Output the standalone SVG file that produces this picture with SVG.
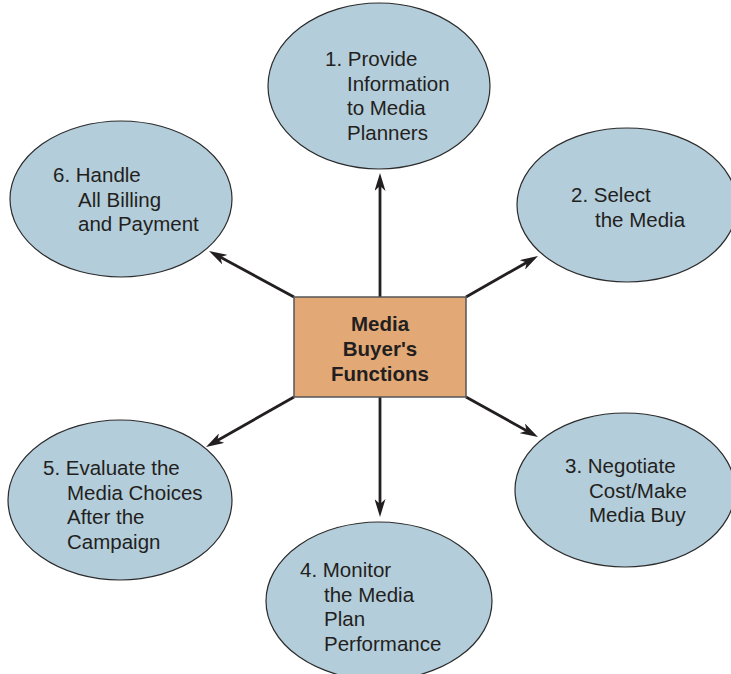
<svg xmlns="http://www.w3.org/2000/svg" width="731" height="674" viewBox="0 0 731 674">
<style>
.ell{fill:#B4CDDA;stroke:#2b2b2b;stroke-width:1.2}
.box{fill:#E2A976;stroke:#555;stroke-width:1.5}
.t{font-family:"Liberation Sans",Arial,sans-serif;font-size:20.5px;fill:#231F20}
.b{font-family:"Liberation Sans",Arial,sans-serif;font-size:20.5px;font-weight:bold;fill:#231F20;text-anchor:middle}
.c{stroke:#231F20;stroke-width:2.8;fill:none;marker-end:url(#ah)}
</style>
<defs>
<marker id="ah" viewBox="0 0 18 11" refX="10" refY="5.5" markerWidth="18" markerHeight="11" markerUnits="userSpaceOnUse" orient="auto">
<path d="M0,0 L18,5.5 L0,11 L5,5.5 Z" fill="#231F20"/>
</marker>
</defs>
<rect width="731" height="674" fill="#fff"/>
<g id="connectors">
<line class="c" x1="380" y1="297" x2="380" y2="181"/>
<line class="c" x1="466" y1="297" x2="531.05" y2="259.96"/>
<line class="c" x1="466" y1="397" x2="531" y2="433.1"/>
<line class="c" x1="380" y1="397" x2="380" y2="509"/>
<line class="c" x1="294" y1="397" x2="212.96" y2="443.05"/>
<line class="c" x1="294" y1="297" x2="216.04" y2="254.81"/>
</g>
<g id="center">
<rect class="box" x="294" y="297" width="172" height="100"/>
<text class="b" x="380" y="331">Media</text>
<text class="b" x="380" y="356">Buyer's</text>
<text class="b" x="380" y="381">Functions</text>
</g>
<g id="n1">
<ellipse class="ell" cx="379" cy="86" rx="111" ry="83"/>
<text class="t" x="325" y="66">1. Provide</text>
<text class="t" x="347" y="90.5">Information</text>
<text class="t" x="347" y="115">to Media</text>
<text class="t" x="347" y="140">Planners</text>
</g>
<g id="n2">
<ellipse class="ell" cx="627" cy="205" rx="110" ry="77"/>
<text class="t" x="571" y="202">2. Select</text>
<text class="t" x="595" y="226.5">the Media</text>
</g>
<g id="n3">
<ellipse class="ell" cx="625" cy="490" rx="110" ry="77"/>
<text class="t" x="565" y="473">3. Negotiate</text>
<text class="t" x="589" y="497.5">Cost/Make</text>
<text class="t" x="589" y="522">Media Buy</text>
</g>
<g id="n4">
<ellipse class="ell" cx="379" cy="601" rx="113" ry="79"/>
<text class="t" x="300" y="577">4. Monitor</text>
<text class="t" x="324" y="601.5">the Media</text>
<text class="t" x="324" y="626">Plan</text>
<text class="t" x="324" y="650.5">Performance</text>
</g>
<g id="n5">
<ellipse class="ell" cx="120" cy="500" rx="112" ry="80"/>
<text class="t" x="43" y="475">5. Evaluate the</text>
<text class="t" x="67" y="499.5">Media Choices</text>
<text class="t" x="67" y="524">After the</text>
<text class="t" x="67" y="548.5">Campaign</text>
</g>
<g id="n6">
<ellipse class="ell" cx="121" cy="199" rx="111" ry="78"/>
<text class="t" x="53" y="182">6. Handle</text>
<text class="t" x="78" y="206.5">All Billing</text>
<text class="t" x="78" y="231">and Payment</text>
</g>
</svg>
